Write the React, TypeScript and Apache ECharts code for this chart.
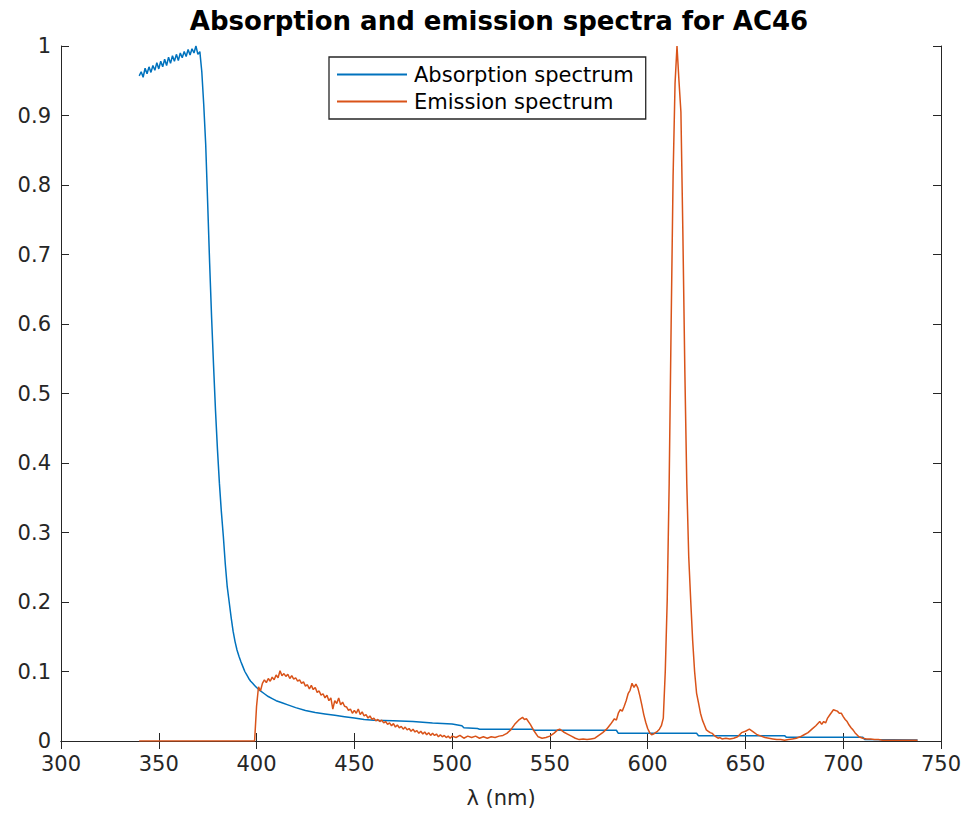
import React, { useEffect, useRef } from "react";
import * as echarts from "echarts";

const titleText = "Absorption and emission spectra for AC46";
const xName = "λ (nm)";
const seriesNames = ["Absorption spectrum", "Emission spectrum"];
const seriesColors = ["#0072BD", "#D95319"];

const absorption: [number, number][] = [
  [340, 0.957], [341, 0.963], [342, 0.955], [343, 0.968], [344, 0.96], [345, 0.97], [346, 0.962], [347, 0.972],
  [348, 0.965], [349, 0.976], [350, 0.967], [351, 0.978], [352, 0.97], [353, 0.981], [354, 0.972], [355, 0.984],
  [356, 0.975], [357, 0.986], [358, 0.978], [359, 0.988], [360, 0.979], [361, 0.99], [362, 0.983], [363, 0.992],
  [364, 0.985], [365, 0.995], [366, 0.987], [367, 0.996], [368, 0.99], [369, 1.0], [370, 0.988], [371, 0.992],
  [372, 0.963], [373, 0.915], [374, 0.858], [375, 0.774], [376, 0.688], [377, 0.61], [378, 0.541], [379, 0.476],
  [380, 0.42], [381, 0.371], [382, 0.33], [383, 0.295], [384, 0.255], [385, 0.222], [386, 0.2], [387, 0.178],
  [388, 0.158], [389, 0.143], [390, 0.131], [391, 0.122], [392, 0.114], [393, 0.107], [394, 0.1], [395, 0.095],
  [396, 0.09], [397, 0.086], [398, 0.083], [399, 0.08], [400, 0.077], [402, 0.072], [404, 0.068], [406, 0.064],
  [408, 0.061], [410, 0.058], [413, 0.055], [416, 0.052], [420, 0.048], [425, 0.044], [430, 0.041], [435, 0.039],
  [440, 0.037], [445, 0.035], [450, 0.033], [455, 0.031], [460, 0.03], [470, 0.029], [480, 0.028], [490, 0.026],
  [500, 0.0245], [505, 0.022], [506, 0.019], [513, 0.018], [514, 0.017], [541, 0.017], [542, 0.0155], [584, 0.0155],
  [585, 0.011], [625, 0.011], [626, 0.0077], [670, 0.0077], [671, 0.0053], [710, 0.0053], [711, 0.002], [738, 0.0015],
];

const emission: [number, number][] = [
  [340, 0], [399, 0], [400, 0.05], [401, 0.078], [402, 0.072], [403, 0.083], [404, 0.088], [405, 0.084],
  [406, 0.09], [407, 0.086], [408, 0.092], [409, 0.088], [410, 0.095], [411, 0.091], [412, 0.101], [413, 0.094],
  [414, 0.097], [415, 0.093], [416, 0.096], [417, 0.09], [418, 0.094], [419, 0.089], [420, 0.091], [421, 0.086],
  [422, 0.088], [423, 0.083], [424, 0.085], [425, 0.079], [426, 0.081], [427, 0.075], [428, 0.08], [429, 0.074],
  [430, 0.077], [431, 0.07], [432, 0.072], [433, 0.066], [434, 0.068], [435, 0.062], [436, 0.066], [437, 0.058],
  [438, 0.062], [439, 0.046], [440, 0.058], [441, 0.054], [442, 0.062], [443, 0.052], [444, 0.056], [445, 0.05],
  [446, 0.049], [447, 0.044], [448, 0.046], [449, 0.04], [450, 0.044], [451, 0.04], [452, 0.046], [453, 0.038],
  [454, 0.042], [455, 0.036], [456, 0.038], [457, 0.033], [458, 0.036], [459, 0.031], [460, 0.033], [461, 0.029],
  [462, 0.031], [463, 0.028], [464, 0.03], [465, 0.026], [466, 0.028], [467, 0.024], [468, 0.026], [469, 0.022],
  [470, 0.025], [471, 0.02], [472, 0.023], [473, 0.019], [474, 0.021], [475, 0.017], [476, 0.02], [477, 0.016],
  [478, 0.018], [479, 0.014], [480, 0.017], [481, 0.013], [482, 0.015], [483, 0.011], [484, 0.014], [485, 0.01],
  [486, 0.013], [487, 0.009], [488, 0.012], [489, 0.008], [490, 0.011], [491, 0.008], [492, 0.01], [493, 0.006],
  [494, 0.009], [495, 0.006], [496, 0.008], [497, 0.005], [498, 0.007], [499, 0.004], [500, 0.007], [502, 0.005],
  [504, 0.008], [506, 0.004], [508, 0.007], [510, 0.005], [512, 0.007], [514, 0.004], [516, 0.006], [518, 0.004],
  [520, 0.006], [522, 0.005], [524, 0.007], [526, 0.008], [528, 0.011], [530, 0.016], [532, 0.024], [534, 0.03],
  [536, 0.034], [537, 0.031], [538, 0.032], [540, 0.024], [542, 0.014], [544, 0.006], [546, 0.004], [548, 0.005],
  [550, 0.007], [552, 0.011], [554, 0.016], [555, 0.017], [557, 0.013], [559, 0.01], [561, 0.007], [563, 0.004],
  [565, 0.002], [567, 0.003], [569, 0.002], [571, 0.003], [573, 0.004], [575, 0.008], [577, 0.012], [579, 0.017],
  [581, 0.024], [583, 0.032], [584, 0.03], [585, 0.04], [586, 0.045], [587, 0.043], [588, 0.05], [589, 0.058],
  [590, 0.068], [591, 0.073], [592, 0.083], [593, 0.077], [594, 0.082], [595, 0.076], [596, 0.065], [597, 0.052],
  [598, 0.038], [599, 0.027], [600, 0.018], [601, 0.012], [602, 0.009], [603, 0.01], [604, 0.012], [605, 0.014],
  [606, 0.017], [607, 0.022], [608, 0.033], [609, 0.1], [610, 0.203], [611, 0.371], [612, 0.599], [613, 0.812],
  [614, 0.946], [615, 1.0], [616, 0.95], [617, 0.905], [618, 0.731], [619, 0.534], [620, 0.371], [621, 0.265],
  [622, 0.203], [623, 0.145], [624, 0.1], [625, 0.069], [626, 0.055], [627, 0.04], [628, 0.03], [629, 0.023],
  [630, 0.016], [631, 0.014], [632, 0.012], [633, 0.011], [634, 0.008], [635, 0.006], [636, 0.004], [637, 0.005],
  [638, 0.003], [640, 0.004], [642, 0.003], [644, 0.004], [646, 0.006], [648, 0.012], [650, 0.014], [652, 0.017],
  [654, 0.013], [656, 0.009], [658, 0.007], [660, 0.005], [662, 0.004], [664, 0.003], [666, 0.002], [668, 0.002],
  [670, 0.001], [672, 0.002], [674, 0.003], [676, 0.004], [678, 0.006], [680, 0.009], [682, 0.012], [684, 0.017],
  [686, 0.022], [688, 0.028], [689, 0.024], [690, 0.028], [691, 0.026], [692, 0.033], [693, 0.037], [694, 0.041],
  [695, 0.045], [696, 0.044], [697, 0.043], [698, 0.04], [699, 0.04], [700, 0.035], [701, 0.031], [702, 0.028],
  [703, 0.023], [704, 0.019], [705, 0.016], [706, 0.012], [707, 0.009], [708, 0.006], [710, 0.004], [712, 0.003],
  [714, 0.003], [716, 0.002], [718, 0.002], [720, 0.001], [725, 0.001], [730, 0.001], [738, 0.001],
];

const AXIS_COLOR = "#262626";
const FONT = "DejaVu Sans";

export default function App() {
  const ref = useRef<HTMLDivElement>(null);
  useEffect(() => {
    document.body.style.margin = "0";
    if (!ref.current) return;
    const chart = echarts.init(ref.current, null, { renderer: "svg" });
    const axisCommon = {
      type: "value" as const,
      axisLine: { show: true, lineStyle: { color: AXIS_COLOR, width: 1 } },
      axisTick: { show: true, inside: true, length: 8, lineStyle: { color: AXIS_COLOR, width: 1 } },
      splitLine: { show: false },
    };
    chart.setOption({
      animation: false,
      backgroundColor: "#ffffff",
      textStyle: { fontFamily: FONT },
      title: {
        text: titleText,
        left: 494,
        top: 3,
        textAlign: "center",
        textStyle: { fontFamily: FONT, fontWeight: "bold", fontSize: 26, color: "#000" },
      },
      legend: {
        orient: "vertical",
        left: 329,
        top: 57,
        padding: [7, 12, 7, 8],
        itemWidth: 70,
        itemHeight: 2,
        itemGap: 6,
        icon: "rect",
        borderColor: AXIS_COLOR,
        borderWidth: 1.3,
        backgroundColor: "#fff",
        textStyle: { fontFamily: FONT, fontSize: 21, color: "#000", padding: [0, 0, 0, 2] },
        data: seriesNames,
      },
      grid: { left: 61, right: 25, top: 46, bottom: 73, containLabel: false },
      xAxis: [
        {
          ...axisCommon,
          min: 300,
          max: 750,
          interval: 50,
          position: "bottom",
          name: xName,
          nameLocation: "middle",
          nameGap: 46,
          nameTextStyle: { fontFamily: FONT, fontSize: 21, color: AXIS_COLOR },
          axisLabel: { fontFamily: FONT, fontSize: 21, color: AXIS_COLOR, margin: 12 },
        },
        {
          ...axisCommon,
          min: 300,
          max: 750,
          interval: 50,
          position: "top",
          axisLabel: { show: false },
        },
      ],
      yAxis: [
        {
          ...axisCommon,
          min: 0,
          max: 1,
          interval: 0.1,
          position: "left",
          axisLabel: { fontFamily: FONT, fontSize: 21, color: AXIS_COLOR, margin: 10 },
        },
        {
          ...axisCommon,
          min: 0,
          max: 1,
          interval: 0.1,
          position: "right",
          axisLabel: { show: false },
        },
      ],
      series: [
        {
          name: seriesNames[0],
          type: "line",
          data: absorption,
          showSymbol: false,
          symbol: "none",
          color: seriesColors[0],
          lineStyle: { color: seriesColors[0], width: 1.5 },
          xAxisIndex: 0,
          yAxisIndex: 0,
        },
        {
          name: seriesNames[1],
          type: "line",
          data: emission,
          showSymbol: false,
          symbol: "none",
          color: seriesColors[1],
          lineStyle: { color: seriesColors[1], width: 1.5 },
          xAxisIndex: 0,
          yAxisIndex: 0,
        },
      ],
    });
    return () => chart.dispose();
  }, []);
  return <div ref={ref} style={{ width: 966, height: 814 }} />;
}
